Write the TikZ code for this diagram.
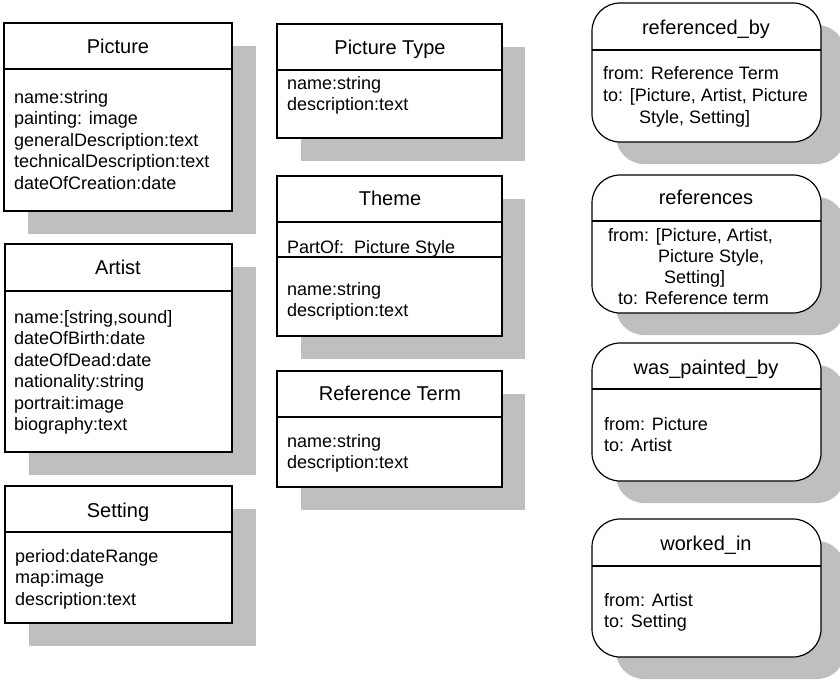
\documentclass[tikz,border=0pt]{standalone}
\usepackage{fontspec}
\setmainfont{Liberation Sans}
\usetikzlibrary{positioning}

\begin{document}
\begin{tikzpicture}[x=1pt,y=-1pt,
  shadebox/.style={fill=black!25,draw=none},
  classbox/.style={draw=black,fill=white,line width=1.2pt},
  relbox/.style={draw=black,fill=white,line width=1.2pt,rounded corners=28pt},
  sepline/.style={draw=black,line width=1.2pt},
  boxtitle/.style={font=\fontsize{20}{24}\selectfont,inner sep=0pt,anchor=base},
  boxattrs/.style={font=\fontsize{18}{21.5}\selectfont,align=left,anchor=base west,inner sep=0pt}]
\useasboundingbox (0,0) rectangle (840,680);
% classes, base west of a text block = its last line
\fill [shadebox] (28,46) rectangle (256,234);
\draw [classbox] (4,23) rectangle (232,211);
\draw [sepline] (4,69) -- (232,69);
\node [boxtitle] (picture) at (118,53) {Picture};
\node [boxattrs] (picture attrs) at (14,189) {name:string\\painting: image\\generalDescription:text\\technicalDescription:text\\dateOfCreation:date};
\fill [shadebox] (29,267) rectangle (256,475);
\draw [classbox] (5,244) rectangle (232,452);
\draw [sepline] (5,291) -- (232,291);
\node [boxtitle] (artist) at (118,274) {Artist};
\node [boxattrs] (artist attrs) at (14,430.5) {name:[string,sound]\\dateOfBirth:date\\dateOfDead:date\\nationality:string\\portrait:image\\biography:text};
\fill [shadebox] (29,509) rectangle (256,646);
\draw [classbox] (5,486) rectangle (232,623);
\draw [sepline] (5,532) -- (232,532);
\node [boxtitle] (setting) at (118,517) {Setting};
\node [boxattrs] (setting attrs) at (15,605) {period:dateRange\\map:image\\description:text};
\fill [shadebox] (301,47) rectangle (525,161);
\draw [classbox] (277,24) rectangle (502,138);
\draw [sepline] (277,70) -- (502,70);
\node [boxtitle] (picture type) at (390,54) {Picture Type};
\node [boxattrs] (picture type attrs) at (287,110.5) {name:string\\description:text};
\fill [shadebox] (301,199) rectangle (525,359);
\draw [classbox] (277,176) rectangle (502,336);
\draw [sepline] (277,222) -- (502,222);
\draw [sepline,line width=2pt] (277,257) -- (502,257);
\node [boxtitle] (theme) at (390,205) {Theme};
\node [boxattrs] (theme part) at (287,253) {PartOf:\ \ Picture Style};
\node [boxattrs] (theme attrs) at (287,316.5) {name:string\\description:text};
\fill [shadebox] (301,394) rectangle (525,510);
\draw [classbox] (277,371) rectangle (502,487);
\draw [sepline] (277,417) -- (502,417);
\node [boxtitle] (reference term) at (390,400) {Reference Term};
\node [boxattrs] (reference term attrs) at (287,468.5) {name:string\\description:text};
% relations
\fill [shadebox,rounded corners=28pt] (616,25) rectangle (845,164);
\draw [relbox] (592,3) rectangle (821,142);
\draw [sepline] (592,50) -- (821,50);
\node [boxtitle] (referenced by) at (706,34) {referenced\_by};
\node [boxattrs,font=\fontsize{18}{22}\selectfont] (referenced by attrs) at (603,123) {from: Reference Term\\to: [Picture, Artist, Picture\\\hspace*{36pt}Style, Setting]};
\fill [shadebox,rounded corners=28pt] (616,197) rectangle (845,335);
\draw [relbox] (592,175) rectangle (821,313);
\draw [sepline] (592,221) -- (821,221);
\node [boxtitle] (references) at (706,204) {references};
\node [boxattrs,font=\fontsize{18}{21}\selectfont] (references attrs) at (608,304) {from: [Picture, Artist,\\\hspace*{50pt}Picture Style,\\\hspace*{56pt}Setting]\\\hspace*{10pt}to: Reference term};
\fill [shadebox,rounded corners=28pt] (616,365) rectangle (845,503);
\draw [relbox] (592,343) rectangle (821,481);
\draw [sepline] (592,389) -- (821,389);
\node [boxtitle] (was painted by) at (706,374) {was\_painted\_by};
\node [boxattrs] (was painted by attrs) at (604,451.5) {from: Picture\\to: Artist};
\fill [shadebox,rounded corners=28pt] (616,541) rectangle (845,679);
\draw [relbox] (592,519) rectangle (821,657);
\draw [sepline] (592,566) -- (821,566);
\node [boxtitle] (worked in) at (706,550) {worked\_in};
\node [boxattrs] (worked in attrs) at (604,627.5) {from: Artist\\to: Setting};
\end{tikzpicture}
\end{document}
